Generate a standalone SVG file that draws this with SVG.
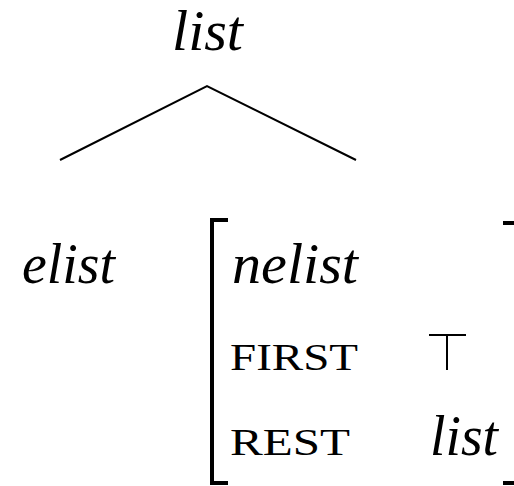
<svg xmlns="http://www.w3.org/2000/svg" width="514" height="486" viewBox="0 0 514 486">
<style>
.it{font-family:"Liberation Serif","DejaVu Serif",serif;font-style:italic;font-size:56px;fill:#000}
.sc{font-family:"Liberation Serif","DejaVu Serif",serif;font-size:38px;fill:#000}
.ln{stroke:#000;stroke-width:2;fill:none}
.br{stroke:#000;stroke-width:4;fill:none}
</style>
<rect width="514" height="486" fill="#fff"/>
<g id="connectors">
<path class="ln" d="M60,160 L207,86 L356,160"/>
</g>
<g id="node-list"><text class="it" x="172" y="50" textLength="71" lengthAdjust="spacingAndGlyphs">list</text></g>
<g id="node-elist"><text class="it" x="22" y="283" textLength="93" lengthAdjust="spacingAndGlyphs">elist</text></g>
<g id="node-avm">
<path class="br" d="M228,220 L212,220 L212,483 L228,483"/>
<path class="br" d="M503,223 L514,223 M514,483 L503,483"/>
<text class="it" x="232" y="283" textLength="126" lengthAdjust="spacingAndGlyphs">nelist</text>
<text class="sc" x="230" y="370" textLength="128" lengthAdjust="spacingAndGlyphs">FIRST</text>
<path class="ln" d="M429,335 L466,335 M447,335 L447,370"/>
<text class="sc" x="230" y="455" textLength="120" lengthAdjust="spacingAndGlyphs">REST</text>
<text class="it" x="430" y="455" textLength="68" lengthAdjust="spacingAndGlyphs">list</text>
</g>
</svg>
